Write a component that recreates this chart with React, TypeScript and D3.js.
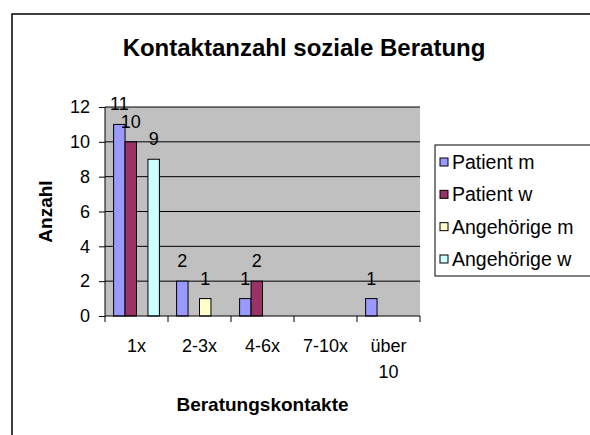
import * as d3 from "d3";
import React, { useEffect, useRef } from "react";

const categories = ["1x", "2-3x", "4-6x", "7-10x", "über 10"];
const seriesNames = ["Patient m", "Patient w", "Angehörige m", "Angehörige w"];
const patientM = [11, 2, 1, 0, 1];
const patientW = [10, 0, 2, 0, 0];
const angehoerigeM = [0, 1, 0, 0, 0];
const angehoerigeW = [9, 0, 0, 0, 0];
const yTicks = [0, 2, 4, 6, 8, 10, 12];
const colors = ["#9999FF", "#993366", "#FFFFCC", "#CCFFFF"];

const FONT = "Liberation Sans, Arial, sans-serif";

function Chart() {
  const ref = useRef<SVGSVGElement>(null);

  useEffect(() => {
    const svg = d3.select(ref.current);
    svg.selectAll("*").remove();

    const series = [patientM, patientW, angehoerigeM, angehoerigeW];
    const plot = { left: 105, right: 420, top: 107, bottom: 316 };

    // chart area border
    svg
      .append("rect")
      .attr("x", 12)
      .attr("y", 14)
      .attr("width", 600)
      .attr("height", 450)
      .attr("fill", "white")
      .attr("stroke", "black")
      .attr("stroke-width", 1.5);

    svg
      .append("text")
      .attr("x", 304)
      .attr("y", 56)
      .attr("text-anchor", "middle")
      .attr("font-family", FONT)
      .attr("font-weight", "bold")
      .attr("font-size", 24)
      .text("Kontaktanzahl soziale Beratung");

    const x = d3
      .scaleBand()
      .domain(categories)
      .range([plot.left, plot.right]);
    const inner = d3
      .scaleBand()
      .domain(seriesNames)
      .range([0, x.bandwidth()])
      .paddingInner(0)
      .paddingOuter(0.75);
    const y = d3.scaleLinear().domain([0, 12]).range([plot.bottom, plot.top]);

    // plot area
    svg
      .append("rect")
      .attr("x", plot.left)
      .attr("y", plot.top)
      .attr("width", plot.right - plot.left)
      .attr("height", plot.bottom - plot.top)
      .attr("fill", "#C0C0C0");

    svg
      .append("g")
      .selectAll("line")
      .data(yTicks.filter((t) => t > 0))
      .enter()
      .append("line")
      .attr("x1", plot.left)
      .attr("x2", plot.right)
      .attr("y1", (d) => y(d))
      .attr("y2", (d) => y(d))
      .attr("stroke", "black")
      .attr("stroke-width", 1);

    // bars
    series.forEach((values, si) => {
      const g = svg.append("g");
      const rows = values.map((v, i) => ({ v, c: categories[i] })).filter((d) => d.v > 0);
      g.selectAll("rect")
        .data(rows)
        .enter()
        .append("rect")
        .attr("x", (d) => x(d.c)! + inner(seriesNames[si])!)
        .attr("y", (d) => y(d.v))
        .attr("width", inner.bandwidth())
        .attr("height", (d) => plot.bottom - y(d.v))
        .attr("fill", colors[si])
        .attr("stroke", "black")
        .attr("stroke-width", 1);

      g.selectAll("text")
        .data(rows)
        .enter()
        .append("text")
        .attr("x", (d) => x(d.c)! + inner(seriesNames[si])! + inner.bandwidth() / 2)
        .attr("y", (d) => y(d.v) - 14)
        .attr("text-anchor", "middle")
        .attr("font-family", FONT)
        .attr("font-size", 18)
        .text((d) => d.v);
    });

    // y axis
    const yAxis = svg
      .append("g")
      .attr("transform", `translate(${plot.left},0)`)
      .call(d3.axisLeft(y).tickValues(yTicks).tickSize(6).tickPadding(9));
    yAxis.select(".domain").attr("stroke", "black").attr("d", `M0,${plot.top}V${plot.bottom}`);
    yAxis
      .selectAll("text")
      .attr("font-family", FONT)
      .attr("font-size", 18)
      .attr("fill", "black");

    // x axis
    const xAxis = svg
      .append("g")
      .attr("transform", `translate(0,${plot.bottom})`)
      .call(d3.axisBottom(x).tickSize(0).tickPadding(20));
    xAxis.select(".domain").attr("stroke", "black").attr("d", `M${plot.left},0H${plot.right}`);
    xAxis
      .selectAll("g.tick text")
      .attr("font-family", FONT)
      .attr("font-size", 18)
      .attr("fill", "black")
      .attr("dy", 0)
      .attr("y", 36)
      .each(function (d: any) {
        const el = d3.select(this);
        const words = String(d).split(" ");
        if (words.length > 1) {
          el.text(null);
          words.forEach((w, i) => {
            el.append("tspan").attr("x", 0).attr("dy", i === 0 ? 0 : 26).text(w);
          });
        }
      });
    xAxis
      .selectAll("line.sep")
      .data(d3.range(categories.length + 1))
      .enter()
      .append("line")
      .attr("x1", (i) => plot.left + i * x.step())
      .attr("x2", (i) => plot.left + i * x.step())
      .attr("y1", 0)
      .attr("y2", 6)
      .attr("stroke", "black");

    // axis titles
    svg
      .append("text")
      .attr("x", (plot.left + plot.right) / 2)
      .attr("y", 411)
      .attr("text-anchor", "middle")
      .attr("font-family", FONT)
      .attr("font-weight", "bold")
      .attr("font-size", 19)
      .text("Beratungskontakte");

    svg
      .append("text")
      .attr("transform", `translate(52,${(plot.top + plot.bottom) / 2}) rotate(-90)`)
      .attr("text-anchor", "middle")
      .attr("font-family", FONT)
      .attr("font-weight", "bold")
      .attr("font-size", 19)
      .text("Anzahl");

    // legend
    const legend = svg.append("g");
    legend
      .append("rect")
      .attr("x", 435)
      .attr("y", 145)
      .attr("width", 200)
      .attr("height", 131)
      .attr("fill", "white")
      .attr("stroke", "black");
    const rowY = d3.scalePoint().domain(seriesNames).range([162, 259]);
    seriesNames.forEach((name, i) => {
      legend
        .append("rect")
        .attr("x", 440)
        .attr("y", rowY(name)! - 4)
        .attr("width", 8)
        .attr("height", 8)
        .attr("fill", colors[i])
        .attr("stroke", "black");
      legend
        .append("text")
        .attr("x", 452)
        .attr("y", rowY(name)! + 7)
        .attr("font-family", FONT)
        .attr("font-size", 19.5)
        .text(name);
    });
  }, []);

  return (
    <svg
      ref={ref}
      width={590}
      height={435}
      style={{ position: "absolute", left: 0, top: 0, background: "white" }}
    />
  );
}

export default function App() {
  return <Chart />;
}
